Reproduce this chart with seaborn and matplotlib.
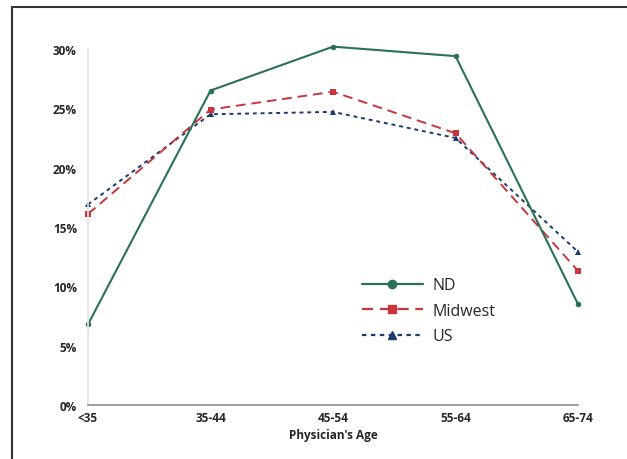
import numpy as np
import pandas as pd
import matplotlib
matplotlib.use("Agg")
import matplotlib.pyplot as plt
from matplotlib.lines import Line2D
import seaborn as sns

# Physician age groups and share of physicians (%)
ages = ["<35", "35-44", "45-54", "55-64", "65-74"]
nd = [6.8, 26.5, 30.2, 29.4, 8.5]
midwest = [16.1, 24.9, 26.4, 22.9, 11.3]
us = [16.9, 24.5, 24.7, 22.5, 12.9]

df = pd.DataFrame({"Age": ages * 3,
                   "Share": nd + midwest + us,
                   "Region": ["ND"] * 5 + ["Midwest"] * 5 + ["US"] * 5})

sns.set_theme(style="white")
plt.rcParams["font.family"] = ["Open Sans", "DejaVu Sans"]

colors = {"ND": "#2a7155", "Midwest": "#c8363c", "US": "#1c3a6e"}
styles = {"ND": "-", "Midwest": (0, (5, 3)), "US": (0, (2, 2))}
markers = {"ND": "o", "Midwest": "s", "US": "^"}

fig = plt.figure(figsize=(6.27, 4.6), dpi=100)
ax = fig.add_axes([0.1404, 0.1174, 0.7815, 0.7739])

for reg in ["US", "Midwest", "ND"]:
    sub = df[df["Region"] == reg]
    sns.lineplot(data=sub, x="Age", y="Share", ax=ax, color=colors[reg],
                 linestyle=styles[reg], marker=markers[reg], markersize=4,
                 markeredgewidth=0, linewidth=1.5 if reg == "ND" else 1.4,
                 sort=False, clip_on=False)

ax.set_xlim(0, 4)
ax.set_ylim(0, 30)
ax.set_yticks([0, 5, 10, 15, 20, 25, 30])
ax.set_yticklabels([f"{v}%" for v in [0, 5, 10, 15, 20, 25, 30]])
ax.tick_params(axis="y", labelsize=8.5, length=0, pad=8)
ax.tick_params(axis="x", labelsize=8.5, length=0, pad=4)
for t in ax.get_xticklabels() + ax.get_yticklabels():
    t.set_fontweight("bold")
ax.set_xlabel("Physician's Age", fontsize=8.5, fontweight="bold", labelpad=3)
ax.set_ylabel("")
for s in ["top", "right"]:
    ax.spines[s].set_visible(False)
ax.spines["left"].set_color("#e4e4e4")
ax.spines["bottom"].set_color("#8c8c8c")
ax.spines["bottom"].set_linewidth(1.2)

handles = [Line2D([], [], color=colors[r], linestyle=styles[r], marker=markers[r],
                  markersize=6, linewidth=1.6) for r in ["ND", "Midwest", "US"]]
ax.legend(handles, ["ND", "Midwest", "US"], loc="lower left",
          bbox_to_anchor=(0.53, 0.13), frameon=False, fontsize=11.5,
          handlelength=3.8, labelspacing=0.6, handletextpad=0.6)

# outer frame (left and top edges)
fig.add_artist(Line2D([12 / 627, 12 / 627], [0, 1 - 8 / 460], color="#333333", lw=1.5))
fig.add_artist(Line2D([12 / 627, 1], [1 - 8 / 460, 1 - 8 / 460], color="#333333", lw=1.5))

fig.savefig("out.png", dpi=100)
